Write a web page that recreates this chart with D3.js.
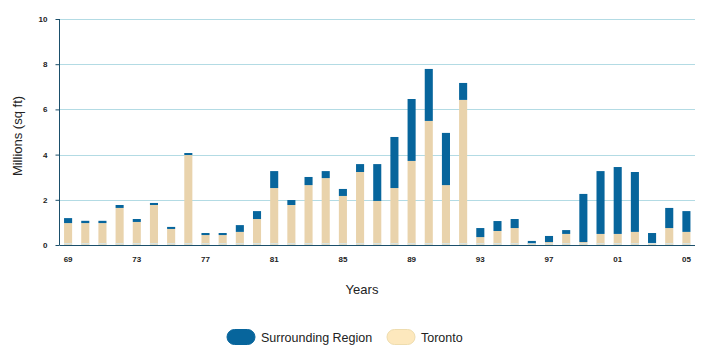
<!DOCTYPE html>
<html>
<head>
<meta charset="utf-8">
<script src="https://cdn.jsdelivr.net/npm/d3@7"></script>
<style>
  body { margin: 0; background: #fff; }
  svg { display: block; font-family: "Liberation Sans", Arial, sans-serif; }
</style>
</head>
<body>
<svg id="chart" width="718" height="358"></svg>
<script>
const years = ["69","70","71","72","73","74","75","76","77","78","79","80","81","82","83","84","85","86","87","88","89","90","91","92","93","94","95","96","97","98","99","00","01","02","03","04","05"];
const toronto = [0.97,0.97,0.97,1.64,1.02,1.77,0.71,3.98,0.44,0.44,0.58,1.15,2.52,1.77,2.65,2.96,2.17,3.23,1.95,2.52,3.72,5.49,2.65,6.42,0.35,0.62,0.75,0.05,0.13,0.49,0.13,0.49,0.49,0.58,0.09,0.75,0.58];
const surrounding = [0.22,0.10,0.10,0.13,0.13,0.09,0.09,0.09,0.09,0.09,0.30,0.35,0.75,0.22,0.36,0.31,0.31,0.35,1.63,2.26,2.74,2.30,2.31,0.75,0.40,0.44,0.40,0.13,0.27,0.17,2.13,2.78,2.96,2.65,0.44,0.89,0.92];
const xTickLabels = ["69","73","77","81","85","89","93","97","01","05"];
const yTicks = [0,2,4,6,8,10];
const seriesNames = ["Surrounding Region","Toronto"];

(function () {
const colors = { surr: "#07659c", tor: "#e9d3ac", legTor: "#fde8bd", legTorStroke: "#eedcae", grid: "#b3dbe4", axis: "#1b4f6b" };

const svg = d3.select("#chart");
const mLeft = 59.5, mRight = 695, mTop = 19, mBottom = 245;

const x = d3.scaleBand().domain(years).range([mLeft, mRight]).paddingInner(0.53).paddingOuter(0.265);
const y = d3.scaleLinear().domain([0, 10]).range([mBottom, mTop]);

// gridlines
svg.append("g").selectAll("line").data(yTicks.filter(d => d > 0)).join("line")
  .attr("x1", mLeft).attr("x2", mRight)
  .attr("y1", d => Math.round(y(d)) + 0.5).attr("y2", d => Math.round(y(d)) + 0.5)
  .attr("stroke", colors.grid).attr("stroke-width", 1);

const data = years.map((yr, i) => ({ yr, tor: toronto[i], surr: surrounding[i] }));
const stack = d3.stack().keys(["tor", "surr"])(data);

const g = svg.append("g");
g.selectAll("rect.tor").data(stack[0]).join("rect").attr("class", "tor")
  .attr("x", d => x(d.data.yr)).attr("width", x.bandwidth())
  .attr("y", d => y(d[1])).attr("height", d => y(d[0]) - y(d[1]))
  .attr("fill", colors.tor);
g.selectAll("rect.surr").data(stack[1]).join("rect").attr("class", "surr")
  .attr("x", d => x(d.data.yr)).attr("width", x.bandwidth())
  .attr("y", d => y(d[1])).attr("height", d => y(d[0]) - y(d[1]))
  .attr("fill", colors.surr);
// thin light base strip on each bar
g.selectAll("rect.base").data(data).join("rect").attr("class", "base")
  .attr("x", d => x(d.yr)).attr("width", x.bandwidth())
  .attr("y", y(0) - 2).attr("height", 1.5)
  .attr("fill", "#d6e9ee").attr("opacity", 0.8);

// y axis
const yAxis = svg.append("g").attr("transform", `translate(${mLeft},0)`)
  .call(d3.axisLeft(y).tickValues(yTicks).tickSize(4).tickPadding(8).tickFormat(d3.format("d")));
yAxis.select(".domain").attr("stroke", colors.axis).attr("d", `M0,${mTop}V${mBottom}`);
yAxis.selectAll(".tick line").attr("stroke", colors.axis);
yAxis.selectAll(".tick text").attr("font-size", 8).attr("font-weight", "bold").attr("fill", "#222")
  .attr("font-family", "Liberation Sans, Arial, sans-serif");

// x axis
const xAxis = svg.append("g").attr("transform", `translate(0,${mBottom})`)
  .call(d3.axisBottom(x).tickValues(xTickLabels).tickSize(0).tickPadding(11));
xAxis.select(".domain").attr("stroke", colors.axis).attr("d", `M${mLeft},0.5H${mRight}`);
xAxis.selectAll(".tick text").attr("font-size", 8).attr("font-weight", "bold").attr("fill", "#222")
  .attr("font-family", "Liberation Sans, Arial, sans-serif");

// axis titles
svg.append("text").attr("transform", `translate(22,${(mTop + mBottom) / 2 + 4}) rotate(-90)`)
  .attr("text-anchor", "middle").attr("font-size", 13).attr("fill", "#222").text("Millions (sq ft)");
svg.append("text").attr("x", 362).attr("y", 294).attr("text-anchor", "middle")
  .attr("font-size", 13).attr("fill", "#222").text("Years");

// legend
const legend = svg.append("g");
const legItems = [
  { name: seriesNames[0], x: 227, fill: colors.surr, stroke: colors.surr },
  { name: seriesNames[1], x: 387, fill: colors.legTor, stroke: colors.legTorStroke }
];
legItems.forEach(it => {
  legend.append("rect").attr("x", it.x).attr("y", 329.5).attr("width", 28).attr("height", 15)
    .attr("rx", 7.5).attr("fill", it.fill).attr("stroke", it.stroke).attr("stroke-width", 1);
  legend.append("text").attr("x", it.x + 34).attr("y", 341.5).attr("font-size", 12.5)
    .attr("fill", "#222").text(it.name);
});
})();
</script>
</body>
</html>
